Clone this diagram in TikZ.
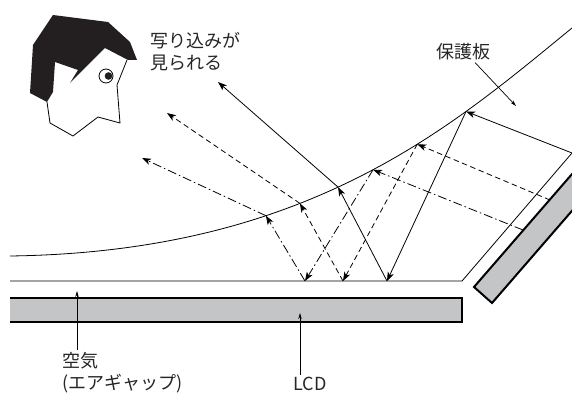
\documentclass[tikz,border=0pt]{standalone}
\usepackage{fontspec}
\setmainfont{Noto Sans CJK JP}
\usetikzlibrary{arrows.meta,calc}
\definecolor{lcdgray}{RGB}{196,197,199}
\definecolor{hair}{RGB}{35,31,32}

\begin{document}
\begin{tikzpicture}[x=1pt, y=-1pt,
  ray/.style={-{Stealth[length=9pt,width=6.5pt,inset=2.5pt]}, line width=0.8pt},
  solidray/.style={ray},
  dashray/.style={ray, dash pattern=on 5.5pt off 3.5pt},
  dotray/.style={ray, dash pattern=on 9pt off 3pt on 1.5pt off 3pt},
  leader/.style={-{Stealth[length=6pt,width=3.5pt]}, line width=0.7pt},
  panel/.style={fill=lcdgray, draw=black, line width=2pt},
  lbl/.style={font=\fontsize{18}{22}\selectfont, text=black!85, inner sep=2pt, align=left}
]
  \useasboundingbox (0,0) rectangle (572,395);
  \clip (0,0) rectangle (572,395);

  % Viewer
  \filldraw[fill=white, line width=0.8pt] (47,102) -- (50,123) -- (73,136) -- (98,117)
    -- (120,123) -- (117,85) -- (127,60);
  \fill[hair] (53,15) -- (108,22) -- (130,42) -- (137,60) -- (128,60) -- (105,48)
    -- (70,83) -- (78,70) -- (55,62) -- (53,92) -- (47,102) -- (30,93) -- (33,45) -- cycle;
  \draw[fill=white, line width=0.8pt] (106,76) circle (7);
  \fill[hair] (108.5,76) circle (3.8);

  % Protective plate (curved front surface)
  \draw[line width=0.8pt] (10,256) .. controls (310,252) and (452,126) .. (572,28)
    coordinate[pos=0.339] (u1) coordinate[pos=0.395] (u2) coordinate[pos=0.462] (u3)
    coordinate[pos=0.528] (t1) coordinate[pos=0.618] (t2) coordinate[pos=0.727] (t3);

  % Back surface and air gap
  \coordinate (g) at (462,281);
  \coordinate (s3) at (572,153);
  \draw[line width=0.8pt] (10,281) -- (g) -- (s3);

  % LCD panel
  \fill[lcdgray] (10,298) rectangle (462,322);
  \draw[line width=2pt] (10,298) -- (462,298) -- (462,322) -- (10,322);

  % Tilted panel on the right
  \draw[panel] (474,287) -- (492,303) -- (623,152) -- (605,136) -- cycle;

  % Ray end points
  \coordinate (s1) at (523,230);
  \coordinate (s2) at (550,200);
  \coordinate (b1) at (305,281);
  \coordinate (b2) at (343,281);
  \coordinate (b3) at (387,281);
  \coordinate (e1) at (142,158);
  \coordinate (e2) at (167,113);
  \coordinate (e3) at (218,82);

  % Reflected rays
  \foreach \sty/\k in {dotray/1, dashray/2, solidray/3}{
    \draw[\sty] (s\k) -- (t\k);
    \draw[\sty] (t\k) -- (b\k);
    \draw[\sty] (b\k) -- (u\k);
    \draw[\sty] (u\k) -- (e\k);
  }

  % Labels
  \node[lbl, anchor=west] (seen) at (148,52) {写り込みが\\見られる};
  \node[lbl] (pg) at (463,52) {保護板};
  \node[lbl, anchor=west] (air) at (60,373) {空気\\(エアギャップ)};
  \node[lbl] (lcd) at (310,384) {LCD};

  \coordinate (plate) at (516,106);
  \coordinate (gap) at (77,291);
  \coordinate (lcdtip) at (300,313);
  \draw[leader] ([xshift=12pt]pg.south) -- (plate);
  \draw[leader] (gap |- air.north) -- (gap);
  \draw[leader] (lcdtip |- lcd.north) -- (lcdtip);
\end{tikzpicture}
\end{document}
